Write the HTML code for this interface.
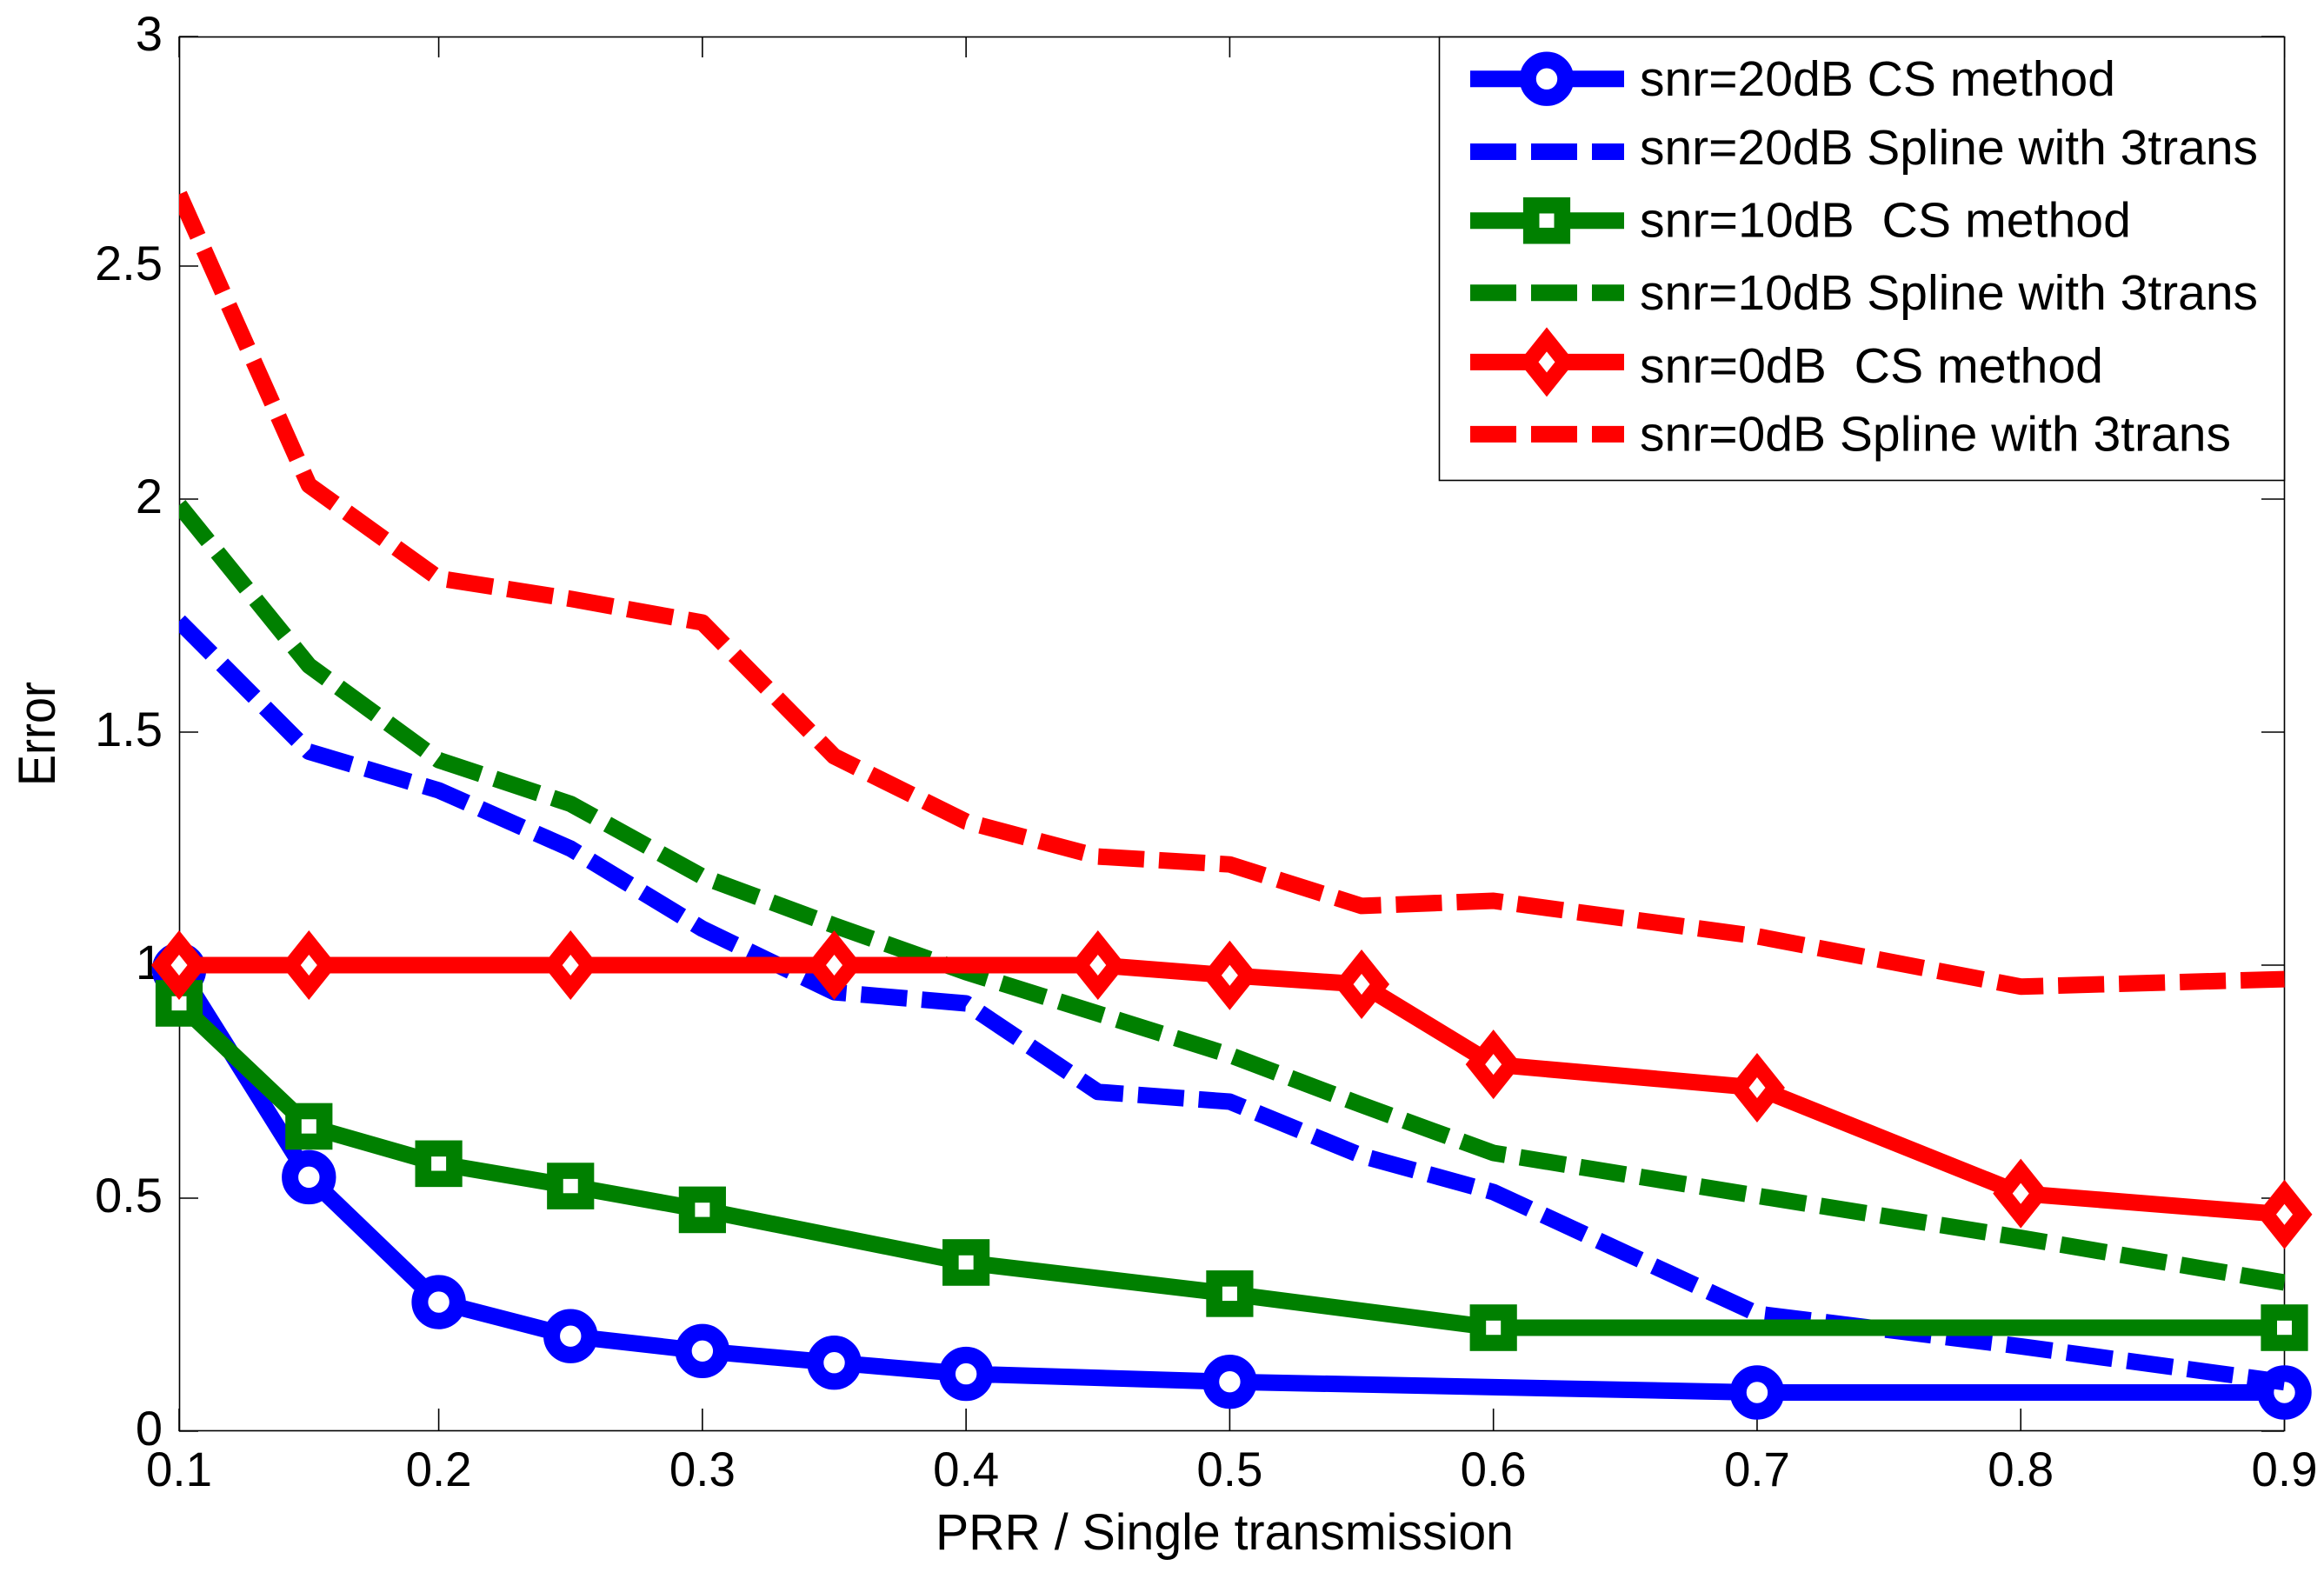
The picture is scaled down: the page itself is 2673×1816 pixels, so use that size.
<!DOCTYPE html>
<html lang="en">
<head>
<meta charset="utf-8">
<title>Error vs PRR</title>
<style>
html,body{margin:0;padding:0;background:#fff;}
svg{display:block;}
text{font-family:"Liberation Sans",Arial,sans-serif;fill:#000;}
</style>
</head>
<body>
<svg id="chart" xmlns="http://www.w3.org/2000/svg" width="2673" height="1816" viewBox="0 0 2673 1816">
  <defs>
    <clipPath id="plot-clip"><rect x="206" y="42" width="2422" height="1604"/></clipPath>
  </defs>
  <rect x="0" y="0" width="2673" height="1816" fill="#fff"/>
  <g id="axes"></g>
  <g id="series"></g>
  <text x="1076" y="1782" font-size="58" textLength="665" lengthAdjust="spacingAndGlyphs">PRR / Single transmission</text>
  <text transform="translate(63,904) rotate(-90)" font-size="60" textLength="120" lengthAdjust="spacingAndGlyphs">Error</text>
  <g id="legend"></g>
</svg>
<script>
var xTicks = [0.1, 0.2, 0.3, 0.4, 0.5, 0.6, 0.7, 0.8, 0.9];
var xTickLabels = ["0.1", "0.2", "0.3", "0.4", "0.5", "0.6", "0.7", "0.8", "0.9"];
var yTicks = [0, 0.5, 1, 1.5, 2, 2.5, 3];
var yTickLabels = ["0", "0.5", "1", "1.5", "2", "2.5", "3"];

var blueCsX = [0.1, 0.15, 0.2, 0.25, 0.3, 0.35, 0.4, 0.5, 0.7, 0.9];
var blueCsY = [0.99, 0.545, 0.277, 0.204, 0.172, 0.147, 0.123, 0.106, 0.083, 0.083];
var blueSplineX = [0.1, 0.15, 0.2, 0.25, 0.3, 0.35, 0.4, 0.45, 0.5, 0.55, 0.6, 0.7, 0.8, 0.9];
var blueSplineY = [1.738, 1.458, 1.375, 1.25, 1.078, 0.942, 0.918, 0.728, 0.707, 0.591, 0.513, 0.252, 0.182, 0.105];
var greenCsX = [0.1, 0.15, 0.2, 0.25, 0.3, 0.4, 0.5, 0.6, 0.9];
var greenCsY = [0.918, 0.654, 0.574, 0.526, 0.475, 0.362, 0.295, 0.222, 0.222];
var greenSplineX = [0.1, 0.15, 0.2, 0.25, 0.3, 0.35, 0.4, 0.45, 0.5, 0.55, 0.6, 0.7, 0.8, 0.9];
var greenSplineY = [1.987, 1.643, 1.44, 1.346, 1.19, 1.085, 0.985, 0.896, 0.807, 0.7, 0.597, 0.505, 0.415, 0.319];
var redCsX = [0.1, 0.15, 0.25, 0.35, 0.45, 0.5, 0.55, 0.6, 0.7, 0.8, 0.9];
var redCsY = [1, 1, 1, 1, 1, 0.978, 0.959, 0.787, 0.737, 0.51, 0.465];
var redSplineX = [0.1, 0.15, 0.2, 0.25, 0.3, 0.35, 0.4, 0.45, 0.5, 0.55, 0.6, 0.7, 0.8, 0.9];
var redSplineY = [2.654, 2.03, 1.83, 1.786, 1.735, 1.448, 1.308, 1.233, 1.216, 1.127, 1.138, 1.062, 0.954, 0.97];

var legendLabels = [
  "snr=20dB CS method",
  "snr=20dB Spline with 3trans",
  "snr=10dB  CS method",
  "snr=10dB Spline with 3trans",
  "snr=0dB  CS method",
  "snr=0dB Spline with 3trans"
];

var SVGNS = "http://www.w3.org/2000/svg";
var BLUE = "#0000ff", GREEN = "#008000", RED = "#ff0000";

function xScale(v) {
  if (v < 0.2) { return 206 + (v - 0.1) / 0.1 * 298.6; }
  return 504.6 + (v - 0.2) / 0.7 * 2122.9;
}
function yScale(v) {
  return 1646 - v * 536;
}
function make(tag, attrs, parent) {
  var el = document.createElementNS(SVGNS, tag);
  for (var k in attrs) { el.setAttribute(k, attrs[k]); }
  parent.appendChild(el);
  return el;
}
function drawMarker(kind, cx, cy, color, parent) {
  var m;
  if (kind === "circle") {
    m = make("circle", {cx: cx, cy: cy, r: 21.7, fill: "#fff", stroke: color, "stroke-width": 19}, parent);
  } else if (kind === "square") {
    m = make("rect", {x: cx - 17.8, y: cy - 17.5, width: 35.6, height: 35, fill: "#fff", stroke: color, "stroke-width": 18.6}, parent);
  } else {
    var d = "M" + (cx - 32) + " " + cy + "L" + cx + " " + (cy - 40) + "L" + (cx + 32) + " " + cy + "L" + cx + " " + (cy + 40) + "Z";
    make("path", {d: d, fill: color}, parent);
    var h = "M" + (cx - 9.5) + " " + cy + "L" + cx + " " + (cy - 12) + "L" + (cx + 9.5) + " " + cy + "L" + cx + " " + (cy + 12) + "Z";
    m = make("path", {d: h, fill: "#fff"}, parent);
  }
  
  
  return m;
}
function drawSeries(name, xs, ys, color, dashed, marker) {
  var root = document.getElementById("series");
  var g = make("g", {}, root);
  
  
  var pts = xs.map(function (x, i) { return xScale(x).toFixed(1) + "," + yScale(ys[i]).toFixed(1); }).join(" ");
  var attrs = {points: pts, fill: "none", stroke: color, "stroke-width": 19, "stroke-linejoin": "round", "clip-path": "url(#plot-clip)"};
  if (dashed) { attrs["stroke-dasharray"] = "53 17"; }
  var line = make("polyline", attrs, g);
  
  
  if (marker) {
    xs.forEach(function (x, i) {
      drawMarker(marker, xScale(x), yScale(ys[i]), color, g);
    });
  }
}
function drawAxes() {
  var ax = document.getElementById("axes");
  var frame = make("rect", {x: 206.5, y: 42.5, width: 2421, height: 1603, fill: "none", stroke: "#000", "stroke-width": 1.6}, ax);
  
  
  xTicks.forEach(function (t, i) {
    var x = xScale(t);
    var up = make("line", {x1: x, x2: x, y1: 1646, y2: 1620, stroke: "#000", "stroke-width": 1.6}, ax);
    
    
    var dn = make("line", {x1: x, x2: x, y1: 42, y2: 66, stroke: "#000", "stroke-width": 1.6}, ax);
    
    
    var lab = make("text", {x: x, y: 1709, "font-size": 56, "text-anchor": "middle", textLength: 76, lengthAdjust: "spacingAndGlyphs"}, ax);
    lab.textContent = xTickLabels[i];
    
    
  });
  yTicks.forEach(function (t, i) {
    var y = yScale(t);
    if (i === yTicks.length - 1) { y = 42; }
    var l = make("line", {x1: 206, x2: 228, y1: y, y2: y, stroke: "#000", "stroke-width": 1.6}, ax);
    
    
    var r = make("line", {x1: 2627, x2: 2601, y1: y, y2: y, stroke: "#000", "stroke-width": 1.6}, ax);
    
    
    var lab = make("text", {x: 187, y: y + 16, "font-size": 56, "text-anchor": "end"}, ax);
    lab.textContent = yTickLabels[i];
    
    
  });
}
function drawLegend() {
  var lg = document.getElementById("legend");
  var box = make("rect", {x: 1655.5, y: 42.5, width: 972, height: 510, fill: "#fff", stroke: "#000", "stroke-width": 1.6}, lg);
  
  
  var rowY = [90.7, 174.5, 253.7, 336.8, 416.4, 499.4];
  var baseY = [110, 189, 272.5, 356, 440, 518.6];
  var widths = [547, 711, 565, 711, 533, 680];
  var colors = [BLUE, BLUE, GREEN, GREEN, RED, RED];
  var marks = ["circle", null, "square", null, "diamond", null];
  legendLabels.forEach(function (label, i) {
    var g = make("g", {}, lg);
    
    
    var attrs = {x1: 1691, x2: 1868, y1: rowY[i], y2: rowY[i], stroke: colors[i], "stroke-width": 19};
    if (!marks[i]) { attrs["stroke-dasharray"] = "53 17"; }
    var ln = make("line", attrs, g);
    
    
    if (marks[i]) { drawMarker(marks[i], 1779, rowY[i], colors[i], g); }
    var t = make("text", {x: 1886, y: baseY[i], "font-size": 57, textLength: widths[i], lengthAdjust: "spacingAndGlyphs"}, g);
    t.setAttribute("xml:space", "preserve");
    t.style.whiteSpace = "pre";
    t.textContent = label;
    
    
  });
}
drawAxes();
drawSeries("series-snr20-cs", blueCsX, blueCsY, BLUE, false, "circle");
drawSeries("series-snr20-spline", blueSplineX, blueSplineY, BLUE, true, null);
drawSeries("series-snr10-cs", greenCsX, greenCsY, GREEN, false, "square");
drawSeries("series-snr10-spline", greenSplineX, greenSplineY, GREEN, true, null);
drawSeries("series-snr0-cs", redCsX, redCsY, RED, false, "diamond");
drawSeries("series-snr0-spline", redSplineX, redSplineY, RED, true, null);
drawLegend();
</script>
</body>
</html>
